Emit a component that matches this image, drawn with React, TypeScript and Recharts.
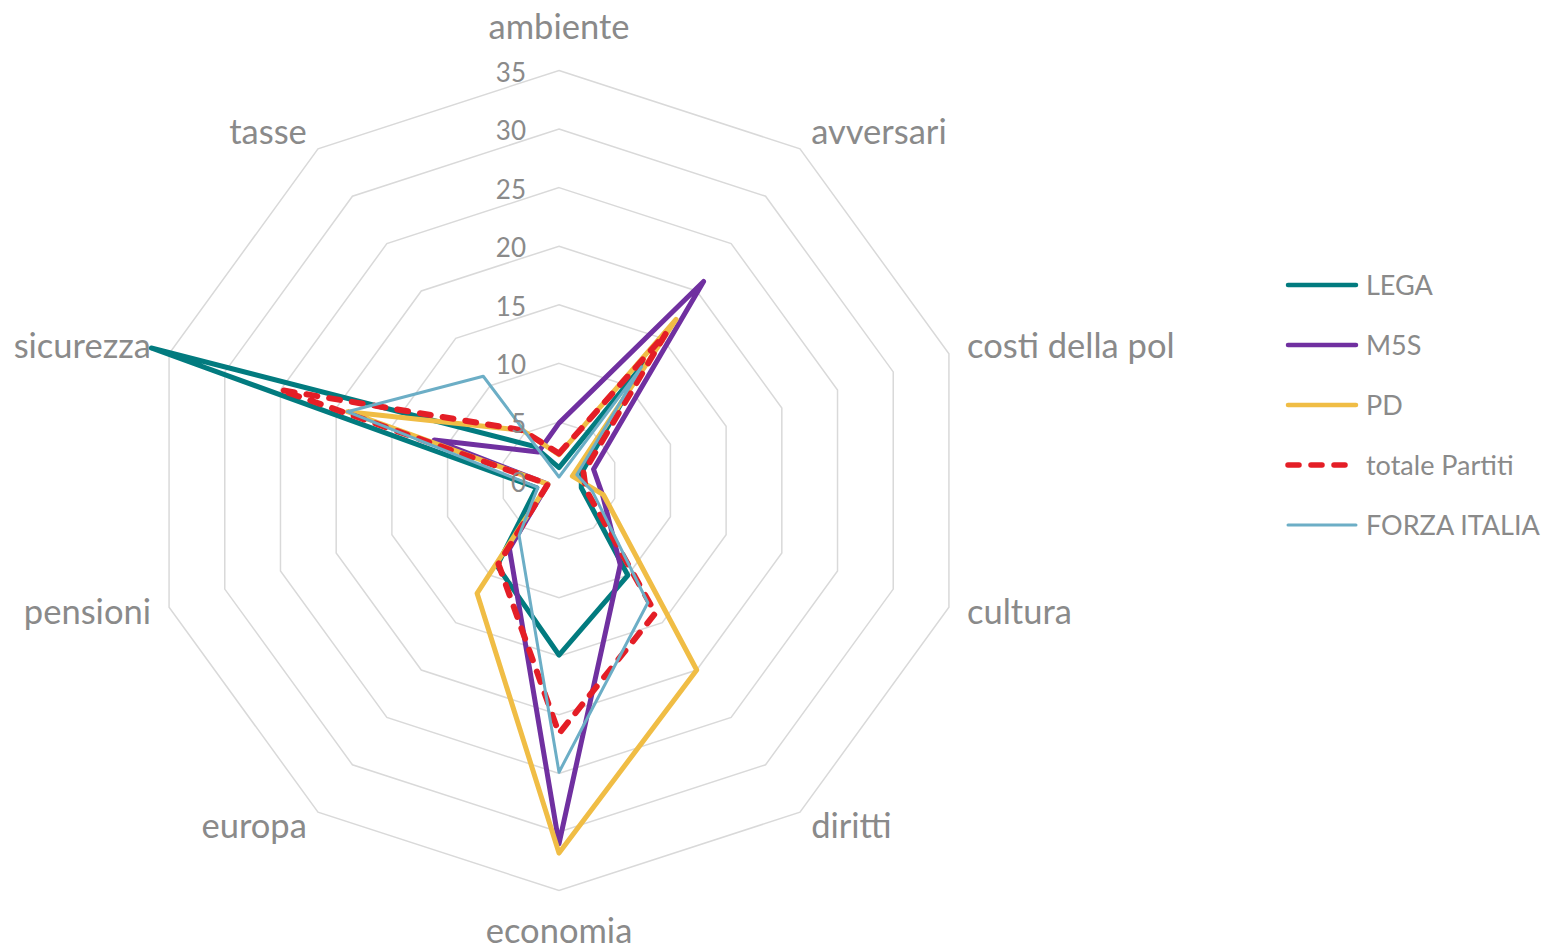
import { Legend, PolarAngleAxis, PolarGrid, PolarRadiusAxis, Radar, RadarChart } from 'recharts';

const categories = ['ambiente', 'avversari', 'costi della pol', 'cultura', 'diritti', 'economia', 'europa', 'pensioni', 'sicurezza', 'tasse'];
const lega = [1.1, 12.3, 2, 2, 10, 14.9, 9, 2, 36.6, 3.6];
const m5s = [4.9, 21, 3.1, 3.9, 8.9, 31, 7.2, 1, 11.2, 3];
const pd = [2.2, 17, 1.2, 4, 20, 31.8, 11.9, 1, 19, 5.3];
const totalePartiti = [2.3, 15.5, 2.2, 2.4, 14, 21.6, 8.8, 1, 25, 5.3];
const forzaItalia = [0.3, 12, 1.6, 3, 12.9, 24.9, 5.8, 1.9, 19, 11];
const radiusTicks = [0, 5, 10, 15, 20, 25, 30, 35];

const CX = 559;
const CY = 480.5;
const R = 410;
const GREY = '#8a8a8a';
const FONT = 'Lato, "Open Sans", sans-serif';

const series = [
  { key: 'LEGA', color: '#027b7f', width: 5, dash: undefined },
  { key: 'M5S', color: '#7030a0', width: 5, dash: undefined },
  { key: 'PD', color: '#f0bd45', width: 5, dash: undefined },
  { key: 'totale Partiti', color: '#e41e26', width: 6, dash: '11 12' },
  { key: 'FORZA ITALIA', color: '#6caec6', width: 3, dash: undefined },
];

const data = categories.map((topic, i) => ({
  topic,
  LEGA: lega[i],
  M5S: m5s[i],
  PD: pd[i],
  'totale Partiti': totalePartiti[i],
  'FORZA ITALIA': forzaItalia[i],
}));

function AngleTick(props: any) {
  const { payload, x, y } = props;
  const dx = x - CX;
  const dy = y - CY;
  const len = Math.sqrt(dx * dx + dy * dy) || 1;
  const ux = dx / len;
  const uy = dy / len;
  const vertical = Math.abs(ux) < 0.1;
  const d = vertical ? 42 : 19;
  const tx = CX + ux * (R + d);
  const ty = CY + uy * (R + d) - 3;
  const anchor = vertical ? 'middle' : ux > 0 ? 'start' : 'end';
  return (
    <text x={tx} y={ty} textAnchor={anchor} dominantBaseline="central" fill={GREY} fontSize={34.5} fontFamily={FONT}>
      {payload.value}
    </text>
  );
}

function RadiusTick(props: any) {
  const { payload, x, y } = props;
  return (
    <text x={x - 33} y={y + 1} textAnchor="end" dominantBaseline="central" fill={GREY} fontSize={26} fontFamily={FONT}>
      {payload.value}
    </text>
  );
}

function LegendContent() {
  return (
    <div style={{ fontFamily: FONT }}>
      {series.map((s) => (
        <div key={s.key} style={{ display: 'flex', alignItems: 'center', height: 60 }}>
          <svg width={82} height={12}>
            <line
              x1={4}
              x2={s.dash ? 66 : 72}
              y1={6}
              y2={6}
              stroke={s.color}
              strokeWidth={s.dash ? 5.5 : s.width === 3 ? 3 : 4.5}
              strokeLinecap="round"
              strokeDasharray={s.dash}
            />
          </svg>
          <span style={{ color: GREY, fontSize: 27, lineHeight: '30px' }}>{s.key}</span>
        </div>
      ))}
    </div>
  );
}

export default function App() {
  return (
    <div style={{ position: 'absolute', left: 0, top: 0, width: 1544, height: 946, background: '#fff' }}>
      <RadarChart
        width={1544}
        height={946}
        data={data}
        cx={CX}
        cy={CY}
        outerRadius={R}
        margin={{ top: 0, right: 0, bottom: 0, left: 0 }}
      >
        <PolarGrid gridType="polygon" radialLines={false} stroke="#d9d9d9" strokeWidth={1.5} />
        <PolarAngleAxis dataKey="topic" tick={<AngleTick />} tickLine={false} axisLine={false} />
        <PolarRadiusAxis
          angle={90}
          domain={[0, 35]}
          ticks={radiusTicks}
          allowDataOverflow
          tick={<RadiusTick />}
          axisLine={false}
          tickLine={false}
        />
        {series.map((s) => (
          <Radar
            key={s.key}
            name={s.key}
            dataKey={s.key}
            stroke={s.color}
            strokeWidth={s.width}
            strokeDasharray={s.dash}
            strokeLinecap="round"
            strokeLinejoin="round"
            fill="none"
            fillOpacity={0}
            dot={false}
            isAnimationActive={false}
          />
        ))}
        <Legend
          layout="vertical"
          align="right"
          verticalAlign="middle"
          content={<LegendContent />}
          wrapperStyle={{ left: 1284, top: 255, right: 'auto', width: 260 }}
        />
      </RadarChart>
    </div>
  );
}
